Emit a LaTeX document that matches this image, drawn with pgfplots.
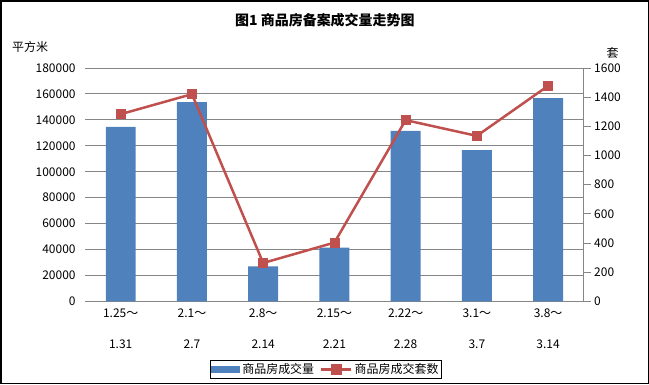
\documentclass[border=0pt]{standalone}
\usepackage{pgfplots}
\pgfplotsset{compat=1.18}
\usepackage{fontspec}
\setmainfont{Noto Sans CJK SC}
\definecolor{barblue}{HTML}{4F81BD}
\definecolor{linered}{HTML}{C0504D}
\definecolor{gridgray}{HTML}{868686}
\begin{document}
\begin{tikzpicture}[x=1bp,y=1bp]
\draw[line width=1.5bp] (0.75,0.75) rectangle (647.5,383.25);
\node[font=\fontsize{14}{16}\selectfont\bfseries] at (324.5,364) {图1 商品房备案成交量走势图};
\node[font=\fontsize{12}{14}\selectfont, anchor=west, inner sep=0] at (12,336.7) {平方米};
\node[font=\fontsize{12}{14}\selectfont, inner sep=0] at (612,331) {套};
\begin{axis}[
  at={(85bp,83bp)}, anchor=south west,
  scale only axis, width=498bp, height=233bp,
  xmin=-0.5, xmax=6.5, ymin=0, ymax=180000,
  ytick={0,20000,40000,60000,80000,100000,120000,140000,160000,180000},
  xtick={0,1,2,3,4,5,6},
  xticklabels={{1.25～\\1.31},{2.1～\\2.7},{2.8～\\2.14},{2.15～\\2.21},{2.22～\\2.28},{3.1～\\3.7},{3.8～\\3.14}},
  axis line style={draw=none},
  major tick length=0pt,
  ymajorgrids, grid style={gridgray, line width=1bp},
  tick label style={font=\fontsize{12}{14}\selectfont},
  xticklabel style={align=center, font=\fontsize{12}{31}\selectfont, yshift=-4bp},
  yticklabel style={xshift=-6bp},
  /pgf/number format/fixed, /pgf/number format/precision=0,
  /pgf/number format/1000 sep={},
  /pgf/number format/assume math mode=true,
  scaled y ticks=false,
]
\addplot[ybar, bar width=0.42, fill=barblue, draw=none] coordinates {
  (0,134600) (1,153700) (2,27000) (3,41500) (4,131600) (5,116600) (6,156800)};
\end{axis}
\begin{axis}[
  at={(85bp,83bp)}, anchor=south west,
  scale only axis, width=498bp, height=233bp,
  xmin=-0.5, xmax=6.5, ymin=0, ymax=1600,
  ytick={0,200,400,600,800,1000,1200,1400,1600},
  axis y line*=right, axis x line=none,
  y axis line style={gridgray, line width=1bp, -},
  ytick style={gridgray, line width=1bp},
  major tick length=7bp, tick align=outside,
  tick label style={font=\fontsize{12}{14}\selectfont},
  /pgf/number format/fixed, /pgf/number format/precision=0,
  /pgf/number format/1000 sep={},
  /pgf/number format/assume math mode=true,
  scaled y ticks=false,
  clip=false,
  legend columns=2,
  legend style={at={(0.483,-0.292)}, anchor=center, draw=black, line width=1bp,
    font=\fontsize{12}{14}\selectfont, inner sep=1bp,
    /tikz/every even column/.append style={column sep=4bp}},
]
\addlegendimage{legend image code/.code={\fill[barblue] (0bp,-3bp) rectangle (28bp,3bp);}}
\addlegendentry{商品房成交量}
\addplot[linered, line width=2.5bp, mark=square*, mark size=4.5bp,
  mark options={fill=linered, draw=linered, line width=0.5bp},
  legend image code/.code={\draw[linered, line width=2.5bp] (0bp,0bp) -- (30bp,0bp); \fill[linered] (11bp,-4bp) rectangle (19bp,4bp);}]
  coordinates {(0,1284) (1,1421) (2,263) (3,403) (4,1243) (5,1135) (6,1478)};
\addlegendentry{商品房成交套数}
\end{axis}
\end{tikzpicture}
\end{document}
